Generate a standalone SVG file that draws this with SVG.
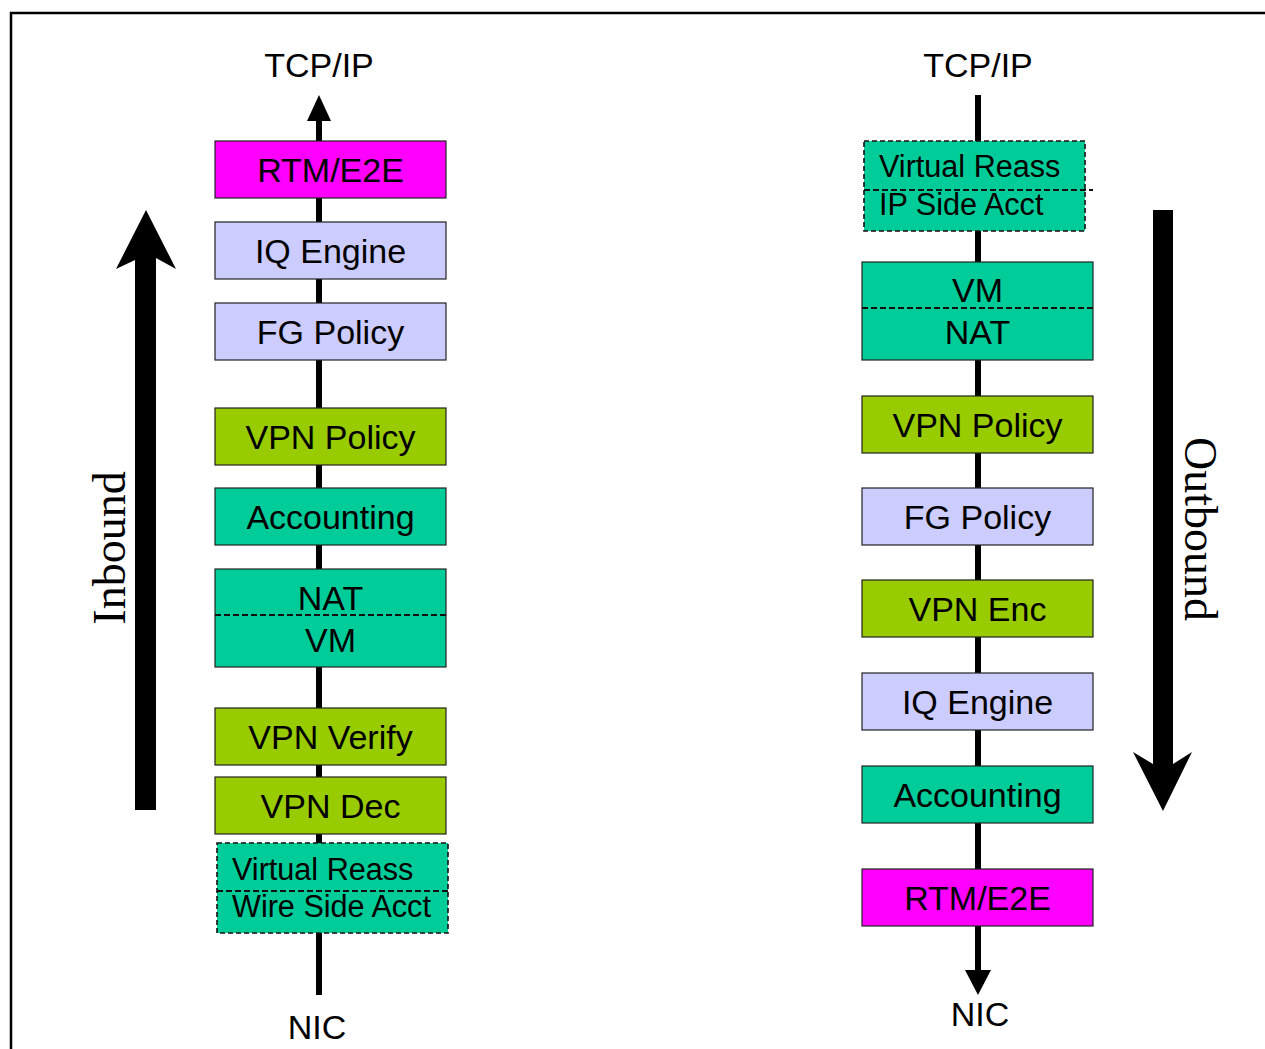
<svg xmlns="http://www.w3.org/2000/svg" width="1265" height="1049" viewBox="0 0 1265 1049">
  <style>
    .box { stroke: #222; stroke-width: 1.2; }
    .dash { stroke: #111; stroke-width: 1.6; stroke-dasharray: 5 3; }
    .div { stroke: #111; stroke-width: 1.8; stroke-dasharray: 6 3; fill: none; }
    .rtm { fill: #FF00FF; }
    .iq { fill: #CCCCFF; }
    .vpn { fill: #99CC00; }
    .acct { fill: #00CC99; }
    .lbl { font-family: "Liberation Sans", Arial, sans-serif; font-size: 34px; fill: #000; text-anchor: middle; }
    .sm { font-family: "Liberation Sans", Arial, sans-serif; font-size: 30.6px; fill: #000; }
    .dir { font-family: "Liberation Serif", "Times New Roman", serif; font-size: 46px; fill: #000; text-anchor: middle; }
    .wire { stroke: #000; stroke-width: 6; fill: none; }
  </style>

  <rect width="1265" height="1049" fill="#fff"/>
  <!-- frame -->
  <path d="M11 1049 V13 H1265" fill="none" stroke="#000" stroke-width="2.5"/>

  <!-- connectors -->
  <g id="connectors">
    <line class="wire" x1="319" y1="118" x2="319" y2="995"/>
    <polygon points="319,95 307,121 331,121" fill="#000"/>
    <line class="wire" x1="978" y1="95" x2="978" y2="972"/>
    <polygon points="978,995 965,970 991,970" fill="#000"/>
    <!-- direction arrows -->
    <polygon points="135,810 135,260 116,269 146,210 176,269 156,258 156,810" fill="#000"/>
    <polygon points="1153,210 1173,210 1173,764 1192,752 1163,811 1133,752 1153,764" fill="#000"/>
  </g>

  <!-- end labels -->
  <text class="lbl" x="319" y="77">TCP/IP</text>
  <text class="lbl" x="978" y="77">TCP/IP</text>
  <text class="lbl" x="317" y="1039">NIC</text>
  <text class="lbl" x="980" y="1026">NIC</text>
  <text class="dir" transform="translate(125,548) rotate(-90)">Inbound</text>
  <text class="dir" transform="translate(1185,529) rotate(90)">Outbound</text>

  <!-- inbound stack -->
  <g id="in-rtm"><rect class="box rtm" x="215" y="141" width="231" height="57"/><text class="lbl" x="330.5" y="182">RTM/E2E</text></g>
  <g id="in-iq"><rect class="box iq" x="215" y="222" width="231" height="57"/><text class="lbl" x="330.5" y="263">IQ Engine</text></g>
  <g id="in-fg"><rect class="box iq" x="215" y="303" width="231" height="57"/><text class="lbl" x="330.5" y="344">FG Policy</text></g>
  <g id="in-vpnpol"><rect class="box vpn" x="215" y="408" width="231" height="57"/><text class="lbl" x="330.5" y="449">VPN Policy</text></g>
  <g id="in-acct"><rect class="box acct" x="215" y="488" width="231" height="57"/><text class="lbl" x="330.5" y="529">Accounting</text></g>
  <g id="in-natvm"><rect class="box acct" x="215" y="569" width="231" height="98"/><line class="div" x1="215" y1="615" x2="446" y2="615"/><text class="lbl" x="330.5" y="610">NAT</text><text class="lbl" x="330.5" y="652">VM</text></g>
  <g id="in-verify"><rect class="box vpn" x="215" y="708" width="231" height="57"/><text class="lbl" x="330.5" y="749">VPN Verify</text></g>
  <g id="in-dec"><rect class="box vpn" x="215" y="777" width="231" height="57"/><text class="lbl" x="330.5" y="818">VPN Dec</text></g>
  <g id="in-reass"><rect class="dash acct" x="217" y="843" width="231" height="90"/><line class="div" x1="217" y1="891" x2="448" y2="891"/><text class="sm" x="232" y="880">Virtual Reass</text><text class="sm" x="232" y="917">Wire Side Acct</text></g>

  <!-- outbound stack -->
  <g id="out-reass"><rect class="dash acct" x="864" y="141" width="221" height="90"/><line class="div" x1="864" y1="190" x2="1093" y2="190"/><text class="sm" x="879" y="177">Virtual Reass</text><text class="sm" x="879" y="215">IP Side Acct</text></g>
  <g id="out-vmnat"><rect class="box acct" x="862" y="262" width="231" height="98"/><line class="div" x1="862" y1="308" x2="1093" y2="308"/><text class="lbl" x="977.5" y="302">VM</text><text class="lbl" x="977.5" y="344">NAT</text></g>
  <g id="out-vpnpol"><rect class="box vpn" x="862" y="396" width="231" height="57"/><text class="lbl" x="977.5" y="437">VPN Policy</text></g>
  <g id="out-fg"><rect class="box iq" x="862" y="488" width="231" height="57"/><text class="lbl" x="977.5" y="529">FG Policy</text></g>
  <g id="out-enc"><rect class="box vpn" x="862" y="580" width="231" height="57"/><text class="lbl" x="977.5" y="621">VPN Enc</text></g>
  <g id="out-iq"><rect class="box iq" x="862" y="673" width="231" height="57"/><text class="lbl" x="977.5" y="714">IQ Engine</text></g>
  <g id="out-acct"><rect class="box acct" x="862" y="766" width="231" height="57"/><text class="lbl" x="977.5" y="807">Accounting</text></g>
  <g id="out-rtm"><rect class="box rtm" x="862" y="869" width="231" height="57"/><text class="lbl" x="977.5" y="910">RTM/E2E</text></g>
</svg>
